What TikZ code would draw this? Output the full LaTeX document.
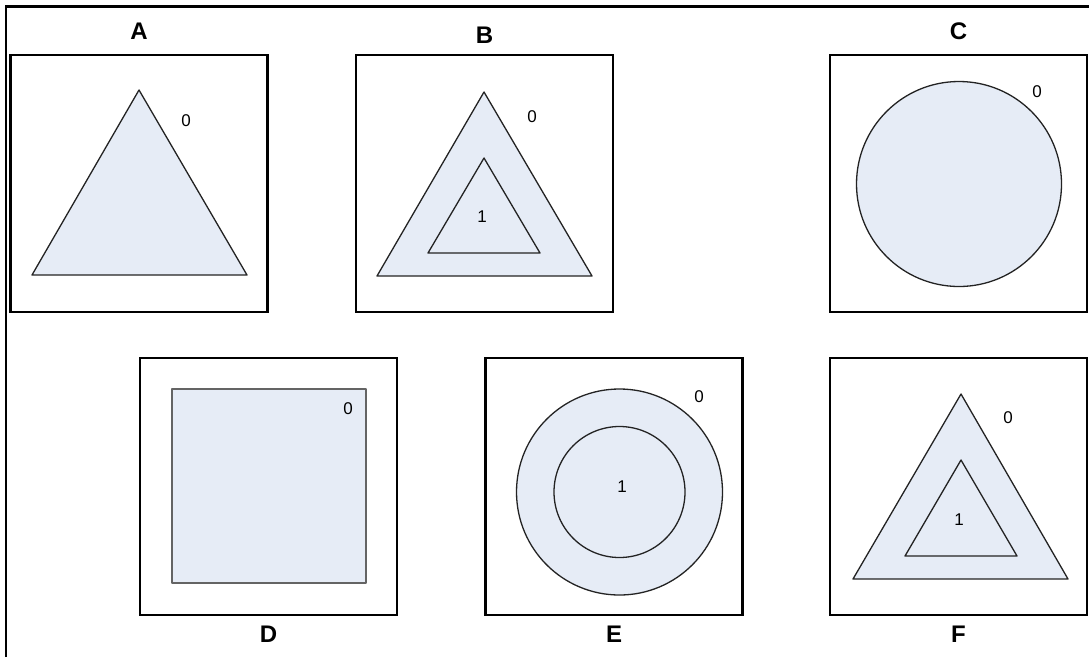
\documentclass[tikz,border=0pt]{standalone}
\usepackage{fontspec}
\setmainfont{Liberation Sans}
\usetikzlibrary{positioning}
\definecolor{shapefill}{RGB}{230,236,246}
\definecolor{shapeline}{RGB}{35,35,35}
\definecolor{boxline}{RGB}{100,100,100}

\begin{document}
\begin{tikzpicture}[x=1pt, y=-1pt,
    every node/.style={inner sep=0pt},
    panel/.style={draw=black, line width=2.4pt, minimum size=257pt},
    region/.style={draw=shapeline, fill=shapefill, line width=1.3pt, line join=round},
    tag/.style={font=\fontsize{24}{24}\selectfont\bfseries},
    num/.style={font=\fontsize{17}{17}\selectfont}]
    \useasboundingbox (0,0) rectangle (1089,657);

    % Outer frame
    \draw[line width=2.4pt] (6,657) -- (6,6.5) -- (1089,6.5);

    % Panels
    \node[panel] (panA) at (139,183.5) {};
    \node[panel] (panB) at (484.5,183.5) {};
    \node[panel] (panC) at (958.5,183.5) {};
    \node[panel] (panD) at (268.5,486.5) {};
    \node[panel] (panE) at (614,486.5) {};
    \node[panel] (panF) at (958.5,486.5) {};

    % Panel letters
    \node[tag, above=14pt of panA] (tagA) {A};
    \node[tag, above=10pt of panB] (tagB) {B};
    \node[tag, above=14pt of panC] (tagC) {C};
    \node[tag, below=10pt of panD] (tagD) {D};
    \node[tag, below=10pt of panE] (tagE) {E};
    \node[tag, below=10pt of panF] (tagF) {F};

    % A: one triangle
    \draw[region] (139,90) -- (32,275) -- (247,275) -- cycle;
    \node[num] (numA0) at (186,121) {0};

    % B: triangle in triangle
    \draw[region] (484,92) -- (377,276) -- (592,276) -- cycle;
    \draw[region] (484,158) -- (428,253) -- (540,253) -- cycle;
    \node[num] (numB0) at (532,117) {0};
    \node[num] (numB1) at (482,217) {1};

    % C: one disc
    \draw[region] (959,184) circle (102.5);
    \node[num] (numC0) at (1037,92) {0};

    % D: square
    \draw[region, draw=boxline, line width=1.8pt] (172,389) rectangle (366,583);
    \node[num] (numD0) at (348,409) {0};

    % E: disc in disc
    \draw[region] (619.5,492) circle (103);
    \draw[region] (619.5,492) circle (65.5);
    \node[num] (numE0) at (699,397) {0};
    \node[num] (numE1) at (622,487) {1};

    % F: triangle in triangle
    \draw[region] (961,394) -- (853,579) -- (1068,579) -- cycle;
    \draw[region] (961,460) -- (905,556) -- (1017,556) -- cycle;
    \node[num] (numF0) at (1008,418) {0};
    \node[num] (numF1) at (959,520) {1};
\end{tikzpicture}
\end{document}
